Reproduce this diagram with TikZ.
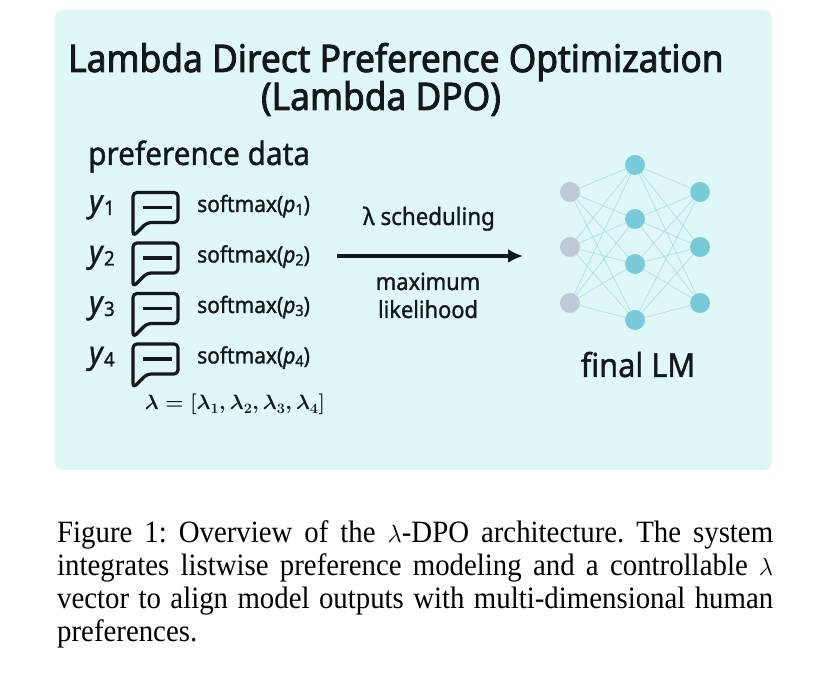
\documentclass[tikz,border=0pt]{standalone}
\usepackage{fontspec}
\setmainfont{Liberation Serif}[FakeStretch=0.93]
\setsansfont{Noto Sans}[FakeStretch=0.93, FakeBold=1.2]
\newfontfamily\headfont{Noto Sans}[FakeStretch=0.93, FakeBold=2.2]
\usetikzlibrary{arrows.meta}

\definecolor{panelcyan}{RGB}{223,248,247}
\definecolor{nodeteal}{RGB}{122,203,217}
\definecolor{nodegrey}{RGB}{191,201,216}
\definecolor{linkteal}{RGB}{170,220,228}
\definecolor{inkdark}{RGB}{20,24,28}

\begin{document}
\begin{tikzpicture}[x=1pt, y=1pt,
    neuron/.style={circle, fill=nodeteal, minimum size=20pt, inner sep=0pt},
    inneuron/.style={neuron, fill=nodegrey},
    link/.style={draw=linkteal, line width=0.6pt},
    bubble/.style={draw=inkdark, line width=3.2pt, rounded corners=4pt, line join=round},
    dg/.style={text=inkdark, inner sep=0pt}]
    \useasboundingbox (0,0) rectangle (827,677);
    \fill [panelcyan, rounded corners=8pt] (55,207) rectangle (772,667);

    \node [dg, anchor=base west, font=\headfont\fontsize{38}{44}\selectfont] (title) at (68,605) {Lambda Direct Preference Optimization};
    \node [dg, anchor=base, font=\headfont\fontsize{38}{44}\selectfont] (subtitle) at (381,567) {(Lambda DPO)};
    \node [dg, anchor=base west, font=\sffamily\fontsize{32}{36}\selectfont] (prefdata) at (88,512) {preference data};

    % the four responses
    \foreach \i/\yb in {1/465, 2/414.5, 3/364, 4/313.5} {
        \node [dg, anchor=base west, font=\sffamily\fontsize{31}{34}\selectfont] (y\i) at (89,\yb) {\textit{y}\raisebox{-3pt}{\fontsize{20}{20}\selectfont\i}};
        \begin{scope}[shift={(155,\yb+4.5)}]
            \draw [bubble] (-22,-29) -- (-22,15) -- (23,15) -- (23,-15) -- (-8,-15) -- cycle;
            \draw [draw=inkdark, line width=3.2pt] (-12,0) -- (17,0);
        \end{scope}
        \node [dg, anchor=base west, font=\sffamily\fontsize{22.5}{26}\selectfont] (soft\i) at (197,\yb) {softmax(\textit{p}\raisebox{-3pt}{\fontsize{15.5}{16}\selectfont\i})};
    }
    \node [dg, anchor=base, font=\fontsize{22}{26}\selectfont\boldmath] (lam) at (235,267) {$\lambda = \bigl[\lambda_1, \lambda_2, \lambda_3, \lambda_4\bigr]$};

    % training step
    \node [dg, anchor=base, font=\sffamily\fontsize{24}{28}\selectfont] (sched) at (429,452) {λ scheduling};
    \node [dg, anchor=base, font=\sffamily\fontsize{23.5}{28}\selectfont] (maxlik) at (428,387) {maximum};
    \node [dg, anchor=base, font=\sffamily\fontsize{23.5}{28}\selectfont] (lik) at (428,359) {likelihood};
    \coordinate (arrfrom) at (337,421);
    \coordinate (arrto) at (523,421);
    \draw [-{Latex[length=15pt, width=14pt]}, line width=3.4pt, draw=inkdark] (arrfrom) -- (arrto);

    % network
    \foreach \i/\yy in {1/485, 2/430, 3/374}
        \node [inneuron] (in\i) at (570,\yy) {};
    \foreach \i/\yy in {1/512, 2/458, 3/413, 4/357}
        \node [neuron] (hid\i) at (635,\yy) {};
    \foreach \i/\yy in {1/485, 2/430, 3/374}
        \node [neuron] (out\i) at (700,\yy) {};
    \foreach \a in {1,2,3}
        \foreach \b in {1,2,3,4} {
            \draw [link] (in\a) -- (hid\b);
            \draw [link] (hid\b) -- (out\a);
        }
    \node [dg, anchor=base, font=\sffamily\bfseries\fontsize{33}{38}\selectfont] (final) at (638,300) {final LM};

    % caption
    \node [anchor=north west, inner sep=0pt, text width=716pt, align=justify, font=\frenchspacing\fontsize{31}{33}\selectfont] (caption) at (57,157)
        {Figure 1: Overview of the $\lambda$-DPO architecture. The system\linebreak
        integrates listwise preference modeling and a controllable $\lambda$\linebreak
        vector to align model outputs with multi-dimensional human\linebreak
        preferences.};
\end{tikzpicture}
\end{document}
